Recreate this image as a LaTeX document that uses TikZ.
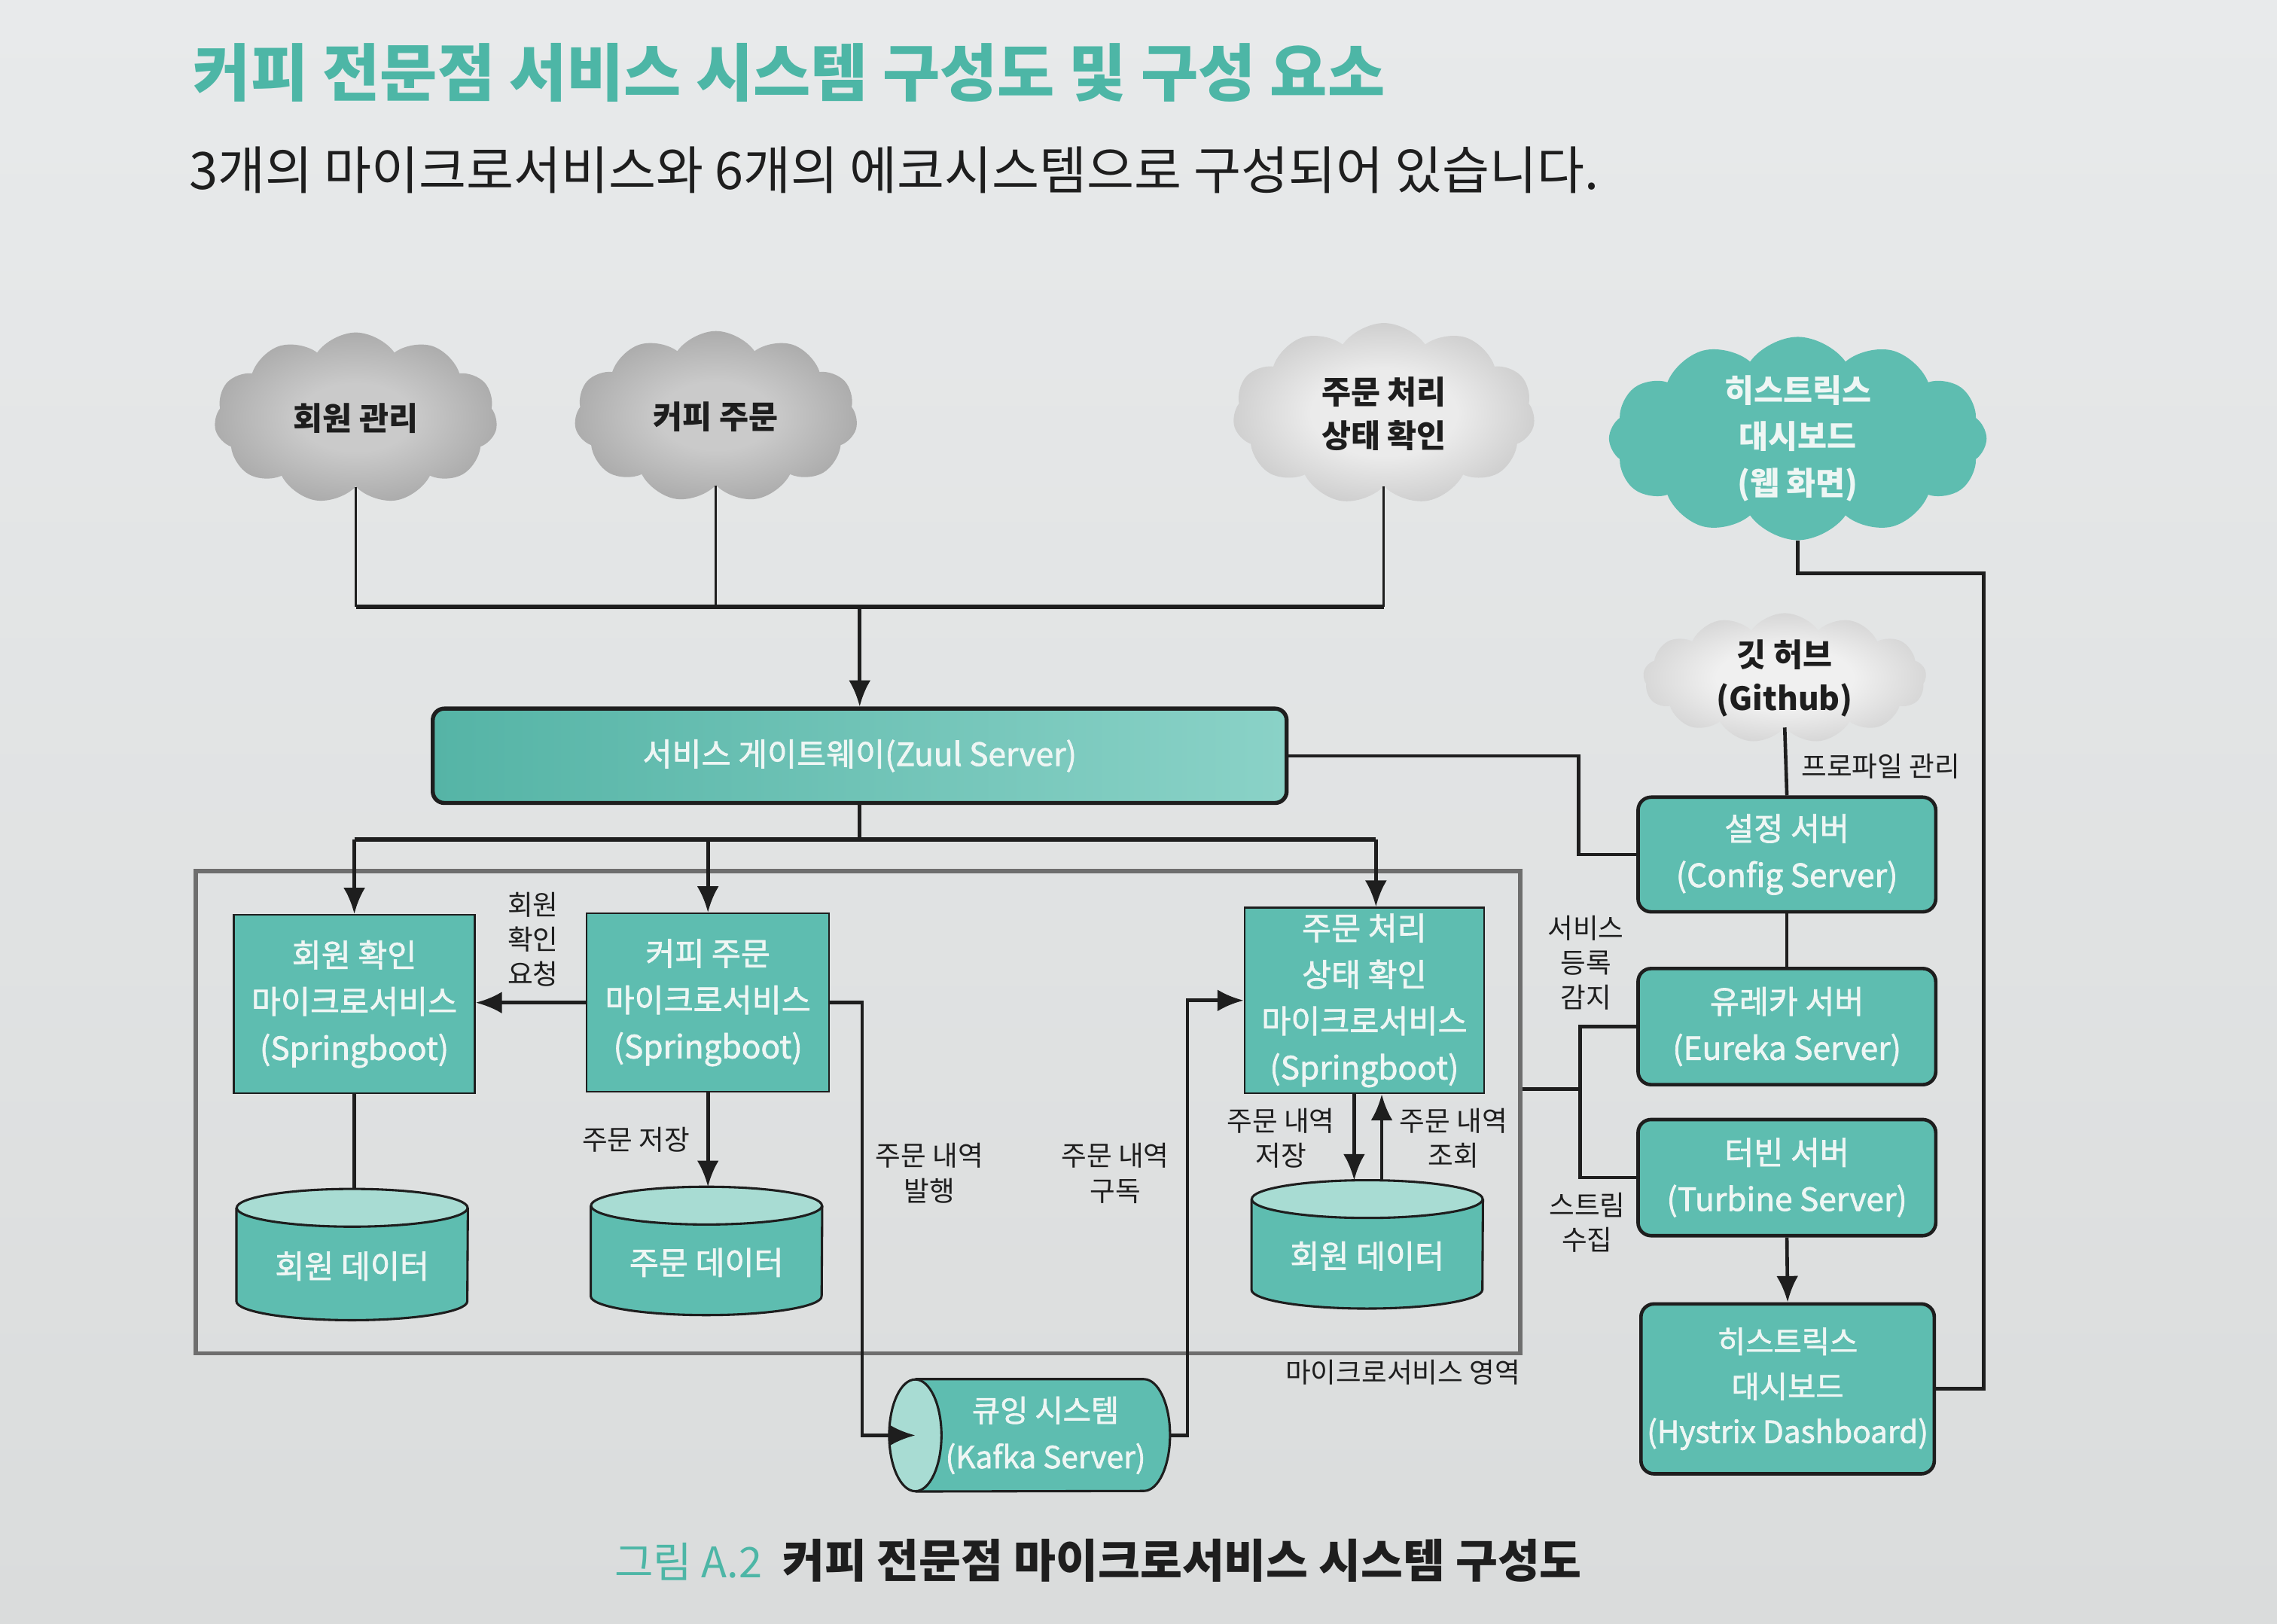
\documentclass[tikz,border=0pt]{standalone}
\usepackage{fontspec}
\setmainfont{Noto Sans CJK KR}
\newfontfamily\medfont[RawFeature={embolden=1.6}]{Noto Sans CJK KR}
\usetikzlibrary{shapes.symbols,arrows.meta,calc}
\definecolor{bgtop}{HTML}{E8EAEB}
\definecolor{bgbot}{HTML}{DADCDC}
\definecolor{tealc}{HTML}{5EBDB0}
\definecolor{tealtop}{HTML}{A8DCD3}
\definecolor{tealdk}{HTML}{55B4A6}
\definecolor{teallt}{HTML}{8AD2C7}
\definecolor{txtw}{HTML}{EEF6F4}
\definecolor{titlec}{HTML}{4DB6A6}
\definecolor{ink}{HTML}{1E1E1E}
\definecolor{areac}{HTML}{6E6E6E}
\definecolor{cAin}{HTML}{CACACA}
\definecolor{cAout}{HTML}{858585}
\definecolor{cBin}{HTML}{EBEBEB}
\definecolor{cBout}{HTML}{A5A5A5}
\definecolor{cCin}{HTML}{F0F0F0}
\definecolor{cCout}{HTML}{B0B0B0}
\pgfdeclareradialshading{cloudA}{\pgfpoint{0bp}{0bp}}{color(0bp)=(cAin); color(10bp)=(cAin); color(45bp)=(cAout); color(50bp)=(cAout)}
\pgfdeclareradialshading{cloudB}{\pgfpoint{0bp}{0bp}}{color(0bp)=(cBin); color(12bp)=(cBin); color(45bp)=(cBout); color(50bp)=(cBout)}
\pgfdeclareradialshading{cloudC}{\pgfpoint{0bp}{0bp}}{color(0bp)=(cCin); color(12bp)=(cCin); color(45bp)=(cCout); color(50bp)=(cCout)}
\tikzset{
  boxtext/.style={text=txtw, font=\medfont\fontsize{22}{32}\selectfont, align=center},
  msbox/.style={rectangle, draw=ink, line width=1.2pt, fill=tealc, boxtext, inner sep=0pt},
  ecobox/.style={rectangle, rounded corners=9pt, draw=ink, line width=2.4pt, fill=tealc, boxtext, inner sep=0pt, minimum width=205pt, minimum height=80pt},
  lbl/.style={text=ink, font=\fontsize{19}{24}\selectfont, align=center, inner sep=0pt},
  conn/.style={draw=ink, line width=2.4pt},
  arr/.style={conn, -{Latex[length=18pt,width=15pt]}},
  cylline/.style={draw=ink, line width=1.6pt},
  cloudbase/.style={cloud, cloud puffs=11, cloud puff arc=110, cloud ignores aspect, inner sep=0pt, align=center},
  graycloud/.style={cloudbase, text=ink, font=\bfseries\fontsize{22}{30}\selectfont},
}
\newcommand{\vcyl}[6]{%
  \node[inner sep=0pt, minimum width=#4pt, minimum height=#5pt] (#1) at (#2,#3) {};
  \fill[tealc] ([yshift=-13pt]#1.north west) -- ([yshift=13pt]#1.south west)
     arc[start angle=180, end angle=360, x radius=#4pt/2, y radius=13pt]
     -- ([yshift=-13pt]#1.north east) -- cycle;
  \draw[cylline] ([yshift=-13pt]#1.north west) -- ([yshift=13pt]#1.south west)
     arc[start angle=180, end angle=360, x radius=#4pt/2, y radius=13pt]
     -- ([yshift=-13pt]#1.north east);
  \draw[cylline, fill=tealtop] ([yshift=-13pt]#1.north) ellipse [x radius=#4pt/2, y radius=13pt];
  \node[boxtext] (#1t) at ([yshift=-8pt]#1.center) {#6};
}
\begin{document}
\begin{tikzpicture}[x=1pt, y=-1pt]
\useasboundingbox (0,0) rectangle (1568,1118);
\fill[top color=bgtop, bottom color=bgbot] (0,0) rectangle (1568,1118);

% titles
\node[anchor=west, inner sep=0pt, font=\bfseries\fontsize{43}{43}\selectfont, text=titlec] (title) at (133,50) {커피 전문점 서비스 시스템 구성도 및 구성 요소};
\node[anchor=west, inner sep=0pt, font=\fontsize{35.5}{35.5}\selectfont, text=ink] (subtitle) at (130,117) {3개의 마이크로서비스와 6개의 에코시스템으로 구성되어 있습니다.};

% clouds
\node[graycloud, shade, shading=cloudA, minimum width=195pt, minimum height=118pt] (cl1) at (245,288) {회원 관리};
\node[graycloud, shade, shading=cloudA, minimum width=195pt, minimum height=118pt] (cl2) at (493,287) {커피 주문};
\node[graycloud, shade, shading=cloudB, minimum width=208pt, minimum height=125pt] (cl3) at (953,285) {주문 처리\\상태 확인};
\node[cloudbase, cloud puffs=12, fill=tealc, text=txtw, font=\bfseries\fontsize{22}{32}\selectfont, minimum width=260pt, minimum height=140pt] (hc) at (1238,302) {히스트릭스\\대시보드\\(웹 화면)};
\node[graycloud, cloud puffs=13, shade, shading=cloudC, minimum width=195pt, minimum height=88pt] (gh) at (1229,467) {깃 허브\\(Github)};

% microservice area
\node[rectangle, draw=areac, line width=3pt, minimum width=912pt, minimum height=332pt, inner sep=0pt] (area) at (591,766) {};
\node[lbl, anchor=east] (arealbl) at (1047,945) {마이크로서비스 영역};

% gateway
\node[rectangle, rounded corners=8pt, draw=ink, line width=2.8pt, left color=tealdk, right color=teallt, boxtext, font=\medfont\fontsize{22}{30}\selectfont, minimum width=588pt, minimum height=65pt, inner sep=0pt] (gw) at (592,520.5) {서비스 게이트웨이(Zuul Server)};

% microservices
\node[msbox, minimum width=166pt, minimum height=123pt] (ms1) at (244,691.5) {회원 확인\\마이크로서비스\\(Springboot)};
\node[msbox, minimum width=167pt, minimum height=123pt] (ms2) at (487.5,690.5) {커피 주문\\마이크로서비스\\(Springboot)};
\node[msbox, minimum width=165pt, minimum height=128pt] (ms3) at (939.5,689) {주문 처리\\상태 확인\\마이크로서비스\\(Springboot)};

% databases
\vcyl{db1}{242.5}{864}{159}{90}{회원 데이터}
\vcyl{db2}{486.5}{861.5}{159}{88}{주문 데이터}
\vcyl{db3}{941.5}{857}{159}{88}{회원 데이터}

% kafka
\node[inner sep=0pt, minimum width=193pt, minimum height=77pt] (kf) at (709,988.5) {};
\fill[tealc] ([xshift=18pt]kf.north west) -- ([xshift=-18pt]kf.north east)
   arc[start angle=90, end angle=-90, x radius=18pt, y radius=38.5pt]
   -- ([xshift=18pt]kf.south west) -- cycle;
\draw[cylline] ([xshift=18pt]kf.north west) -- ([xshift=-18pt]kf.north east)
   arc[start angle=90, end angle=-90, x radius=18pt, y radius=38.5pt]
   -- ([xshift=18pt]kf.south west);
\draw[cylline, fill=tealtop] ([xshift=18pt]kf.west) ellipse [x radius=18pt, y radius=38.5pt];
\node[boxtext, font=\medfont\fontsize{21}{32}\selectfont] (kft) at ([xshift=11pt]kf.center) {큐잉 시스템\\(Kafka Server)};
\coordinate (kin) at ([xshift=18pt]kf.west);

% ecosystem boxes
\node[ecobox, minimum height=79pt] (cfg) at (1230.5,588.5) {설정 서버\\(Config Server)};
\node[ecobox] (eur) at (1230.5,707) {유레카 서버\\(Eureka Server)};
\node[ecobox] (tur) at (1230.5,811) {터빈 서버\\(Turbine Server)};
\node[ecobox, minimum width=202pt, minimum height=117pt, font=\medfont\fontsize{21}{31}\selectfont] (hd) at (1231,956.5) {히스트릭스\\대시보드\\(Hystrix Dashboard)};

% coordinates
\coordinate (tb) at (592,418);
\coordinate (b2) at (592,578);
\coordinate (j1) at (1087,518);
\coordinate (j2) at (1088,750);
\coordinate (hr) at (1366,395);

% top connections
\draw[conn, line width=1.6pt] (cl1.south) -- (cl1.south |- tb);
\draw[conn, line width=1.6pt] (cl2.south) -- (cl2.south |- tb);
\draw[conn, line width=1.6pt] (cl3.south) -- (cl3.south |- tb);
\draw[conn, line width=3.4pt] (cl1.south |- tb) -- (cl3.south |- tb);
\draw[arr] (tb) -- (gw.north);

% gateway to services
\draw[conn] (gw.south) -- (b2);
\draw[conn, line width=3pt] (ms1.north |- b2) -- ([xshift=8pt]ms3.north |- b2);
\draw[arr] (ms1.north |- b2) -- (ms1.north);
\draw[arr] (ms2.north |- b2) -- (ms2.north);
\draw[arr] ([xshift=8pt]ms3.north |- b2) -- ([xshift=8pt]ms3.north);

% service internals
\draw[arr] (ms2.west) -- (ms2.west -| ms1.east);
\node[lbl] (l1) at (367,647) {회원\\확인\\요청};
\draw[conn] (ms1.south) -- (ms1.south |- db1.north);
\draw[arr] (ms2.south) -- (ms2.south |- db2.north);
\node[lbl] (l2) at (438,785) {주문 저장};
\draw[arr] (ms2.east) -- ++(22pt,0) |- (kin);
\node[lbl] (l3) at (640,808) {주문 내역\\발행};
\draw[arr] (kf.east) -- ++(12pt,0) |- (ms3.west);
\node[lbl] (l4) at (768,808) {주문 내역\\구독};
\draw[arr] ([xshift=-7pt]ms3.south) -- ([xshift=-7pt]ms3.south |- db3.north);
\draw[arr] ([xshift=12pt]ms3.south |- db3.north) -- ([xshift=12pt]ms3.south);
\node[lbl] (l5) at (882,784) {주문 내역\\저장};
\node[lbl] (l6) at (1001,784) {주문 내역\\조회};

% right side
\draw[conn] (gw.east) -- (gw.east -| j1) |- (cfg.west);
\draw[conn] (gh.south) -- (cfg.north);
\node[lbl] (l7) at (1295,528) {프로파일 관리};
\draw[conn] (cfg.south) -- (eur.north);
\draw[conn] (area.east |- j2) -- (j2);
\draw[conn] (eur.west) -- (eur.west -| j2) -- (tur.west -| j2) -- (tur.west);
\node[lbl] (l8) at (1092,663) {서비스\\등록\\감지};
\node[lbl] (l9) at (1093,842) {스트림\\수집};
\draw[arr] (tur.south) -- (hd.north);
\draw[conn] (hd.east) -- (hd.east -| hr) -- (hr) -- (hr -| hc.south) -- (hc.south);

% caption
\node[anchor=west, inner sep=0pt, font=\fontsize{29}{29}\selectfont] (cap) at (423,1075) {\textcolor{titlec}{그림 A.2}\hspace{14pt}\textbf{\textcolor{ink}{\fontsize{31.5}{31.5}\selectfont 커피 전문점 마이크로서비스 시스템 구성도}}};
\end{tikzpicture}
\end{document}
